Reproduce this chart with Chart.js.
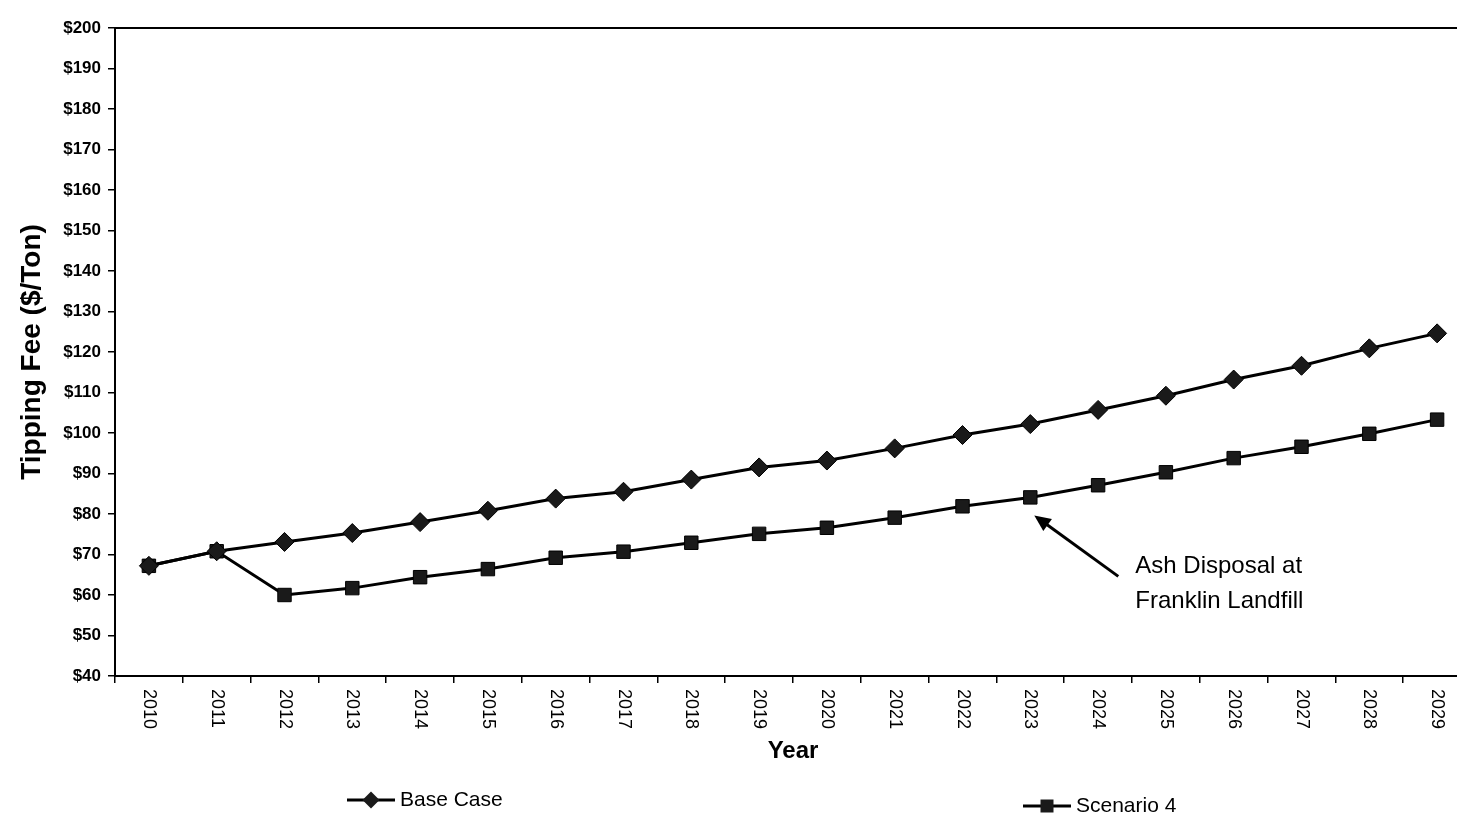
<!DOCTYPE html>
<html>
<head>
<meta charset="utf-8">
<script src="https://cdn.jsdelivr.net/npm/chart.js@4.4.0/dist/chart.umd.min.js"></script>
<style>
  html, body { margin: 0; padding: 0; background: #fff; overflow: hidden; }
  #wrap { width: 1490px; height: 823px; }
</style>
</head>
<body>
<div id="wrap"><canvas id="tippingFeeChart" width="1490" height="823"></canvas></div>
<script>
const years = ['2010', '2011', '2012', '2013', '2014', '2015', '2016', '2017', '2018', '2019',
  '2020', '2021', '2022', '2023', '2024', '2025', '2026', '2027', '2028', '2029'];
const baseCase = [67.2, 70.8, 73.1, 75.3, 78.0, 80.8, 83.8, 85.5, 88.5, 91.5,
  93.2, 96.2, 99.5, 102.2, 105.7, 109.2, 113.2, 116.6, 120.9, 124.6];
const scenario4 = [67.2, 70.8, 60.0, 61.7, 64.4, 66.4, 69.2, 70.7, 72.9, 75.1,
  76.6, 79.1, 81.9, 84.1, 87.1, 90.3, 93.8, 96.6, 99.8, 103.3];
const seriesNames = ['Base Case', 'Scenario 4'];
const yMin = 40;
const yMax = 200;
const yStep = 10;
const noteLines = ['Ash Disposal at', 'Franklin Landfill'];
const noteYear = '2023';

const FONT = "'Liberation Sans', Arial, Helvetica, sans-serif";

function drawMarker(ctx, style, x, y) {
  ctx.beginPath();
  if (style === 'rectRot') {
    ctx.moveTo(x, y - 8.5); ctx.lineTo(x + 8.5, y); ctx.lineTo(x, y + 8.5); ctx.lineTo(x - 8.5, y);
  } else {
    ctx.rect(x - 6.5, y - 6.5, 13, 13);
  }
  ctx.closePath();
  ctx.fillStyle = '#1a1a1a';
  ctx.fill();
}

// top border, rotated year labels, legend and the note with its arrow
const extras = {
  id: 'extras',
  afterDraw(chart) {
    const { ctx, chartArea, scales: { x } } = chart;
    ctx.save();
    ctx.strokeStyle = '#000';
    ctx.lineWidth = 2;
    ctx.beginPath();
    ctx.moveTo(chartArea.left, chartArea.top);
    ctx.lineTo(chart.width, chartArea.top);
    ctx.stroke();

    ctx.fillStyle = '#000';
    ctx.font = '18px ' + FONT;
    ctx.textAlign = 'left';
    ctx.textBaseline = 'middle';
    x.ticks.forEach((t, i) => {
      ctx.save();
      ctx.translate(x.getPixelForTick(i), chartArea.bottom + 13);
      ctx.rotate(Math.PI / 2);
      ctx.fillText(x.getLabelForValue(t.value), 0, 0);
      ctx.restore();
    });

    // legend
    const items = [
      { x: 347, y: 800 },
      { x: 1023, y: 806 },
    ];
    chart.data.datasets.forEach((ds, i) => {
      const it = items[i];
      ctx.strokeStyle = '#000';
      ctx.lineWidth = 3;
      ctx.beginPath();
      ctx.moveTo(it.x, it.y);
      ctx.lineTo(it.x + 48, it.y);
      ctx.stroke();
      drawMarker(ctx, ds.pointStyle, it.x + 24, it.y);
      ctx.fillStyle = '#000';
      ctx.font = '21px ' + FONT;
      ctx.textBaseline = 'middle';
      ctx.fillText(ds.label, it.x + 53, it.y);
    });

    // note
    const pt = chart.getDatasetMeta(1).data[years.indexOf(noteYear)];
    const tipX = pt.x + 4, tipY = pt.y + 18;
    const tailX = pt.x + 88, tailY = pt.y + 79;
    const ang = Math.atan2(tailY - tipY, tailX - tipX);
    ctx.strokeStyle = '#000';
    ctx.lineWidth = 3;
    ctx.beginPath();
    ctx.moveTo(tailX, tailY);
    ctx.lineTo(tipX + Math.cos(ang) * 12, tipY + Math.sin(ang) * 12);
    ctx.stroke();
    ctx.beginPath();
    ctx.moveTo(tipX, tipY);
    ctx.lineTo(tipX + Math.cos(ang + 0.42) * 18, tipY + Math.sin(ang + 0.42) * 18);
    ctx.lineTo(tipX + Math.cos(ang - 0.42) * 18, tipY + Math.sin(ang - 0.42) * 18);
    ctx.closePath();
    ctx.fillStyle = '#000';
    ctx.fill();
    ctx.font = '24px ' + FONT;
    ctx.textBaseline = 'alphabetic';
    noteLines.forEach((line, i) => {
      ctx.fillText(line, pt.x + 105, pt.y + 76 + i * 35);
    });
    ctx.restore();
  },
};

const ctx = document.getElementById('tippingFeeChart').getContext('2d');

new Chart(ctx, {
  type: 'line',
  data: {
    labels: years,
    datasets: [
      {
        label: seriesNames[0],
        data: baseCase,
        borderColor: '#000',
        borderWidth: 3,
        pointStyle: 'rectRot',
        pointRadius: 9.5,
        pointBackgroundColor: '#1a1a1a',
        pointBorderColor: '#000',
        pointBorderWidth: 1,
        tension: 0,
      },
      {
        label: seriesNames[1],
        data: scenario4,
        borderColor: '#000',
        borderWidth: 3,
        pointStyle: 'rect',
        pointRadius: 9.5,
        pointBackgroundColor: '#1a1a1a',
        pointBorderColor: '#000',
        pointBorderWidth: 1,
        tension: 0,
      },
    ],
  },
  options: {
    responsive: false,
    animation: false,
    layout: { padding: { top: 28, right: 19, left: 0, bottom: 0 } },
    plugins: {
      legend: { display: false },
      tooltip: { enabled: false },
    },
    scales: {
      x: {
        offset: true,
        grid: { offset: true, drawOnChartArea: false, tickLength: 7, color: '#000', lineWidth: 1.5 },
        border: { color: '#000', width: 2 },
        ticks: { color: 'rgba(0,0,0,0)', autoSkip: false, minRotation: 90, maxRotation: 90, font: { size: 18 } },
        title: {
          display: true,
          text: 'Year',
          color: '#000',
          font: { family: FONT, size: 24, weight: 'bold' },
          padding: { top: 0, bottom: 57 },
        },
        afterFit(scale) { scale.height = 147; },
      },
      y: {
        min: yMin,
        max: yMax,
        grid: { drawOnChartArea: false, tickLength: 7, color: '#000', lineWidth: 1.5 },
        border: { color: '#000', width: 2 },
        ticks: {
          stepSize: yStep,
          color: '#000',
          padding: 7,
          font: { family: FONT, size: 17, weight: 'bold' },
          callback: (v) => '$' + v,
        },
        title: {
          display: true,
          text: 'Tipping Fee ($/Ton)',
          color: '#000',
          font: { family: FONT, size: 28, weight: 'bold' },
          padding: { top: 15, bottom: 0 },
        },
        afterFit(scale) { scale.width = 115; },
      },
    },
  },
  plugins: [extras],
});
</script>
</body>
</html>
